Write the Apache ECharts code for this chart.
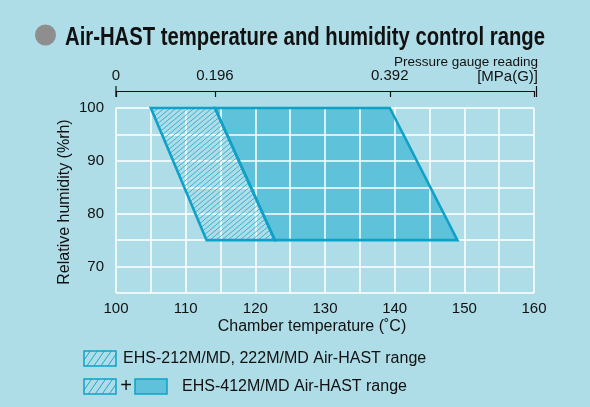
<!DOCTYPE html>
<html><head><meta charset="utf-8">
<script src="https://cdn.jsdelivr.net/npm/echarts@6/dist/echarts.min.js"></script>
<style>html,body{margin:0;padding:0;background:#aedde8;}#c{width:590px;height:407px;}</style>
</head><body><div id="c"></div>
<script>
// ---- data ----
const tempRange = [100, 160];          // chamber temperature axis (°C)
const rhRange = [65, 100];             // relative humidity axis (%rh)
const hatchTemp = [105, 114.2, 122.8, 113];   // EHS-212M/MD,222M/MD polygon
const hatchRH   = [100, 100, 75, 75];
const solidTemp = [114.2, 139.3, 149, 122.8]; // extra EHS-412M/MD area
const solidRH   = [100, 100, 75, 75];
const pressureTemps  = [100, 114.2, 139.3, 160];
const pressureLabels = ['0', '0.196', '0.392', ''];
const legendLabels = ['EHS-212M/MD, 222M/MD Air-HAST range', 'EHS-412M/MD Air-HAST range'];
const titleText = 'Air-HAST temperature and humidity control range';

const BG = '#aedde8', FILL = '#5ec3da', EDGE = '#0fa1c8';
const FONT = '"Liberation Sans", Arial, sans-serif';
const TITLE_FONT = 'bold 25px "Liberation Sans", Arial, sans-serif';

function hatchCanvas(bg, w, h, lw) {
  const c = document.createElement('canvas');
  c.width = w; c.height = h;
  const g = c.getContext('2d');
  if (bg) { g.fillStyle = bg; g.fillRect(0, 0, w, h); }
  g.strokeStyle = EDGE; g.lineWidth = lw;
  g.beginPath();
  [-1, 0, 1].forEach(k => { g.moveTo(k * w, h); g.lineTo((k + 1) * w, 0); });
  g.stroke();
  return c;
}
const hatchPattern = { image: hatchCanvas(null, 6, 5, 0.75), repeat: 'repeat' };
const hatchPatternBg = { image: hatchCanvas(BG, 7, 10, 0.9), repeat: 'repeat' };

// fit title width (condensed look)
const mc = document.createElement('canvas').getContext('2d');
mc.font = TITLE_FONT;
const titleScale = 480 / mc.measureText(titleText).width;

function polySeries(temps, rhs, style, z) {
  return {
    type: 'custom', xAxisIndex: 0, yAxisIndex: 0, z: z, silent: true,
    data: [[temps[0], rhs[0]]],
    renderItem: function (params, api) {
      const pts = temps.map((t, i) => api.coord([t, rhs[i]]));
      return { type: 'polygon', shape: { points: pts }, style: style };
    }
  };
}

const chart = echarts.init(document.getElementById('c'), null, { renderer: 'canvas' });
chart.setOption({
  backgroundColor: BG,
  animation: false,
  grid: { left: 116, right: 56, top: 108, bottom: 114 },
  xAxis: [{
    type: 'value', position: 'bottom', min: tempRange[0], max: tempRange[1], interval: 5,
    axisLine: { show: false }, axisTick: { show: false },
    splitLine: { show: true, lineStyle: { color: '#ffffff', width: 1.5 } },
    axisLabel: { margin: 8, fontSize: 15, color: '#111', fontFamily: FONT,
      formatter: v => (v % 10 === 0 ? String(v) : '') }
  }, {
    type: 'value', position: 'top', offset: 17, min: tempRange[0], max: tempRange[1],
    axisLine: { show: true, onZero: false, lineStyle: { color: '#111', width: 1.2 } },
    axisTick: { show: true, inside: true, length: 6, lineStyle: { color: '#111', width: 1.2 }, customValues: pressureTemps },
    splitLine: { show: false },
    axisLabel: { margin: 8, fontSize: 15, color: '#111', fontFamily: FONT, customValues: pressureTemps.slice(0, 3),
      formatter: v => { const i = pressureTemps.findIndex(t => Math.abs(t - v) < 1e-6); return i >= 0 ? pressureLabels[i] : ''; } }
  }],
  yAxis: {
    type: 'value', min: rhRange[0], max: rhRange[1], interval: 5,
    axisLine: { show: false }, axisTick: { show: false },
    splitLine: { show: true, lineStyle: { color: '#ffffff', width: 1.5 } },
    axisLabel: { margin: 12, fontSize: 15, color: '#111', fontFamily: FONT,
      formatter: v => (v % 10 === 0 ? String(v) : '') }
  },
  series: [
    polySeries(solidTemp, solidRH, { fill: FILL }, -1),
    polySeries(hatchTemp, hatchRH, { fill: hatchPattern }, 3),
    polySeries(solidTemp, solidRH, { fill: 'none', stroke: EDGE, lineWidth: 2.6, lineJoin: 'miter' }, 4),
    polySeries(hatchTemp, hatchRH, { fill: 'none', stroke: EDGE, lineWidth: 2.6, lineJoin: 'miter' }, 5)
  ],
  graphic: [
    { type: 'circle', shape: { cx: 45.5, cy: 35, r: 10.5 }, style: { fill: '#8e8e8e' } },
    { type: 'text', x: 65, y: 38, scaleX: titleScale, style: { text: titleText,
        font: TITLE_FONT, fill: '#111', verticalAlign: 'middle' } },
    { type: 'text', x: 538, y: 62, style: { text: 'Pressure gauge reading', font: '13.5px ' + FONT, fill: '#111', align: 'right', verticalAlign: 'middle' } },
    { type: 'text', x: 538, y: 77, style: { text: '[MPa(G)]', font: '15px ' + FONT, fill: '#111', align: 'right', verticalAlign: 'middle' } },
    { type: 'line', shape: { x1: 116, y1: 86, x2: 116, y2: 97 }, style: { stroke: '#111', lineWidth: 1.2 } },
    { type: 'line', shape: { x1: 536.5, y1: 86, x2: 536.5, y2: 97 }, style: { stroke: '#111', lineWidth: 1.2 } },
    { type: 'text', x: 312, y: 327, style: { text: 'Chamber temperature (˚C)', font: '16px ' + FONT, fill: '#111', align: 'center', verticalAlign: 'middle' } },
    { type: 'text', x: 65, y: 202, rotation: Math.PI / 2, style: { text: 'Relative humidity (%rh)', font: '16px ' + FONT, fill: '#111', align: 'center', verticalAlign: 'middle' } },
    // legend
    { type: 'rect', shape: { x: 84, y: 351, width: 32, height: 15 }, style: { fill: hatchPatternBg, stroke: EDGE, lineWidth: 1.5 } },
    { type: 'text', x: 123, y: 358.5, style: { text: legendLabels[0], font: '16px ' + FONT, fill: '#111', verticalAlign: 'middle' } },
    { type: 'rect', shape: { x: 84, y: 379, width: 32, height: 15 }, style: { fill: hatchPatternBg, stroke: EDGE, lineWidth: 1.5 } },
    { type: 'text', x: 126, y: 386.5, style: { text: '+', font: '20px ' + FONT, fill: '#111', align: 'center', verticalAlign: 'middle' } },
    { type: 'rect', shape: { x: 135, y: 379, width: 32, height: 15 }, style: { fill: FILL, stroke: EDGE, lineWidth: 1.5 } },
    { type: 'text', x: 182, y: 386.5, style: { text: legendLabels[1], font: '16px ' + FONT, fill: '#111', verticalAlign: 'middle' } }
  ]
});
</script></body></html>
